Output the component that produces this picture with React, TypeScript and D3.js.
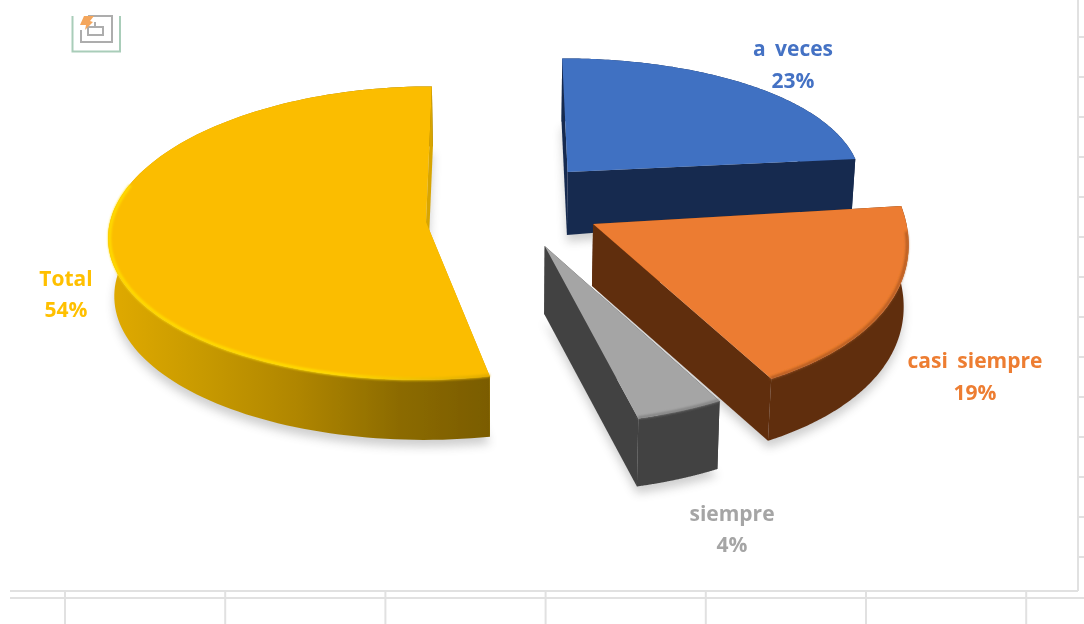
import React from "react";
import * as d3 from "d3";

const categories = ["a veces", "casi siempre", "siempre", "Total"];
const shares = [23.4, 19.2, 3.9, 53.5];
const percentLabels = ["23%", "19%", "4%", "54%"];
const topColors = ["#4071c2", "#ec7c30", "#a5a5a5", "#fbbd00"];
const wallColors = ["#182b50", "#612f11", "#434343", "url(#goldWall)"];
const cutWallColors = ["#182b50", "#612f11", "#434343", "#d8a500"];
const rimColors = ["none", "#b05a22", "#808080", "url(#goldRim)"];
const labelColors = ["#4472c4", "#ed7d31", "#a5a5a5", "#ffc000"];

// per-slice placement of the exploded pie: world offset, screen apex row, radius and tilt
const sliceOffsetX = [73, 96, 47, -71];
const sliceOffsetY = [-118, 4, 50, 0];
const sliceApexY = [172, 224, 246, 222];
const sliceRadius = [302, 313, 317, 316];
const sliceTilt = [0.436, 0.57, 0.545, 0.4617];
const sliceFrontPerspective = [1900, 100000, 10000, 4168];
const sliceStartShift = [0, 0, -2.6, 0.83];
const sliceEndShift = [0, -3.4, -2, 0];
const sliceDepth = [63, 62, 68, 60];
const sliceDepthLean = [-10, 0, 0, 2];
const sliceFloorScale = [0.99, 0.988, 0.99, 0.984];
const labelX = [793, 975, 732, 66];
const labelNameY = [50, 362, 515, 280];
const labelPercentY = [82, 394, 546, 311];
const drawOrder = [0, 3, 2, 1];

const VANISH_X = 497;
const CAMERA = 3500;

type Pt = [number, number];

export default function App() {
  const arcs = d3
    .pie<number>()
    .sort(null)
    .value((d) => d)(shares);
  const line = d3.line<Pt>().curve(d3.curveLinear);

  const project = (i: number, theta: number, r: number, floor: boolean): Pt => {
    const dX = r * Math.sin(theta);
    const dY = -r * Math.cos(theta);
    const Y = sliceOffsetY[i] + dY;
    const s = 1 / (1 - Y / CAMERA);
    const x = (sliceOffsetX[i] + dX) * s * (floor ? sliceFloorScale[i] : 1);
    const y =
      sliceApexY[i] +
      (sliceTilt[i] * dY) / (1 - dY / sliceFrontPerspective[i]) +
      (floor ? sliceDepth[i] + (sliceDepthLean[i] * dX) / sliceRadius[i] : 0);
    return [VANISH_X + x, y];
  };

  const deg = Math.PI / 180;
  const slices = arcs.map((a, i) => {
    const a0 = a.startAngle + sliceStartShift[i] * deg;
    const a1 = a.endAngle + sliceEndShift[i] * deg;
    const R = sliceRadius[i];
    const thetas = d3.range(0, 121).map((k) => a0 + ((a1 - a0) * k) / 120);
    const rimTop = thetas.map((t) => project(i, t, R, false));
    const rimFloor = thetas.map((t) => project(i, t, R, true));
    const apexTop = project(i, 0, 0, false);
    const apexFloor = project(i, 0, 0, true);
    const top = line([apexTop, ...rimTop])! + "Z";
    const floor = line([apexFloor, ...rimFloor])! + "Z";
    const outerWall = line([...rimTop, ...rimFloor.slice().reverse()])! + "Z";
    const wallStart = line([apexTop, rimTop[0], rimFloor[0], apexFloor])! + "Z";
    const wallEnd =
      line([apexTop, rimTop[120], rimFloor[120], apexFloor])! + "Z";
    // highlight only along the part of the rim that faces the viewer
    const frontLimit = i === 3 ? 285 * deg : a1;
    const rim = line(
      thetas
        .filter((t) => t <= frontLimit && t > (i === 1 ? 92 * deg : 0))
        .map((t) => project(i, t, R - 1.5, false))
    )!;
    return { i, top, floor, outerWall, wallStart, wallEnd, rim };
  });

  const rows = d3.range(37, 560, 40);
  const cols = d3.range(0, 7).map((k) => 65 + k * 160.2);
  const gridColor = "#e1e1e1";
  const font = "'Open Sans', Lato, sans-serif";

  return (
    <svg
      width={1084}
      height={624}
      style={{ position: "absolute", left: 0, top: 0, background: "#fff" }}
    >
      <defs>
        <linearGradient id="goldWall" gradientUnits="userSpaceOnUse" x1="110" x2="490" y1="0" y2="0">
          <stop offset="0" stopColor="#e0aa00" />
          <stop offset="0.24" stopColor="#c89a00" />
          <stop offset="0.49" stopColor="#b08600" />
          <stop offset="0.76" stopColor="#8c6b00" />
          <stop offset="1" stopColor="#7a5c00" />
        </linearGradient>
        <linearGradient id="goldRim" gradientUnits="userSpaceOnUse" x1="110" x2="490" y1="0" y2="0">
          <stop offset="0" stopColor="#ffdc00" />
          <stop offset="0.6" stopColor="#ffdc00" />
          <stop offset="1" stopColor="#e0aa00" />
        </linearGradient>
        <filter id="soft" x="-5%" y="-5%" width="110%" height="110%">
          <feGaussianBlur stdDeviation="0.6" />
        </filter>
        <filter id="shadow" x="-10%" y="-10%" width="120%" height="130%">
          <feGaussianBlur stdDeviation="5" />
        </filter>
        <filter id="rimBlur" x="-10%" y="-10%" width="120%" height="120%">
          <feGaussianBlur stdDeviation="1.3" />
        </filter>
        <filter id="textSoft">
          <feGaussianBlur stdDeviation="0.4" />
        </filter>
      </defs>

      <rect width={1084} height={624} fill="#fff" />

      {/* worksheet grid behind the chart */}
      <g stroke={gridColor} strokeWidth={2} fill="none">
        <line x1={10} x2={1078} y1={591} y2={591} />
        <line x1={1078} x2={1078} y1={0} y2={591} />
        <line x1={10} x2={1084} y1={598} y2={598} />
        {cols.map((x) => (
          <line key={x} x1={x} x2={x} y1={592} y2={624} />
        ))}
        {rows.map((y) => (
          <line key={y} x1={1078} x2={1084} y1={y} y2={y} />
        ))}
      </g>

      {/* picture placeholder icon */}
      <g fill="none" filter="url(#soft)">
        <path d="M72.5,16V51.5H120V16" stroke="#a9cdb9" strokeWidth={2} />
        <path d="M81,30V42H112V16H88" stroke="#adadad" strokeWidth={2} />
        <rect x={88} y={27} width={15} height={8} stroke="#adadad" strokeWidth={2} />
        <path d="M95,27V22" stroke="#adadad" strokeWidth={2} />
        <path d="M84,16H94L90,21L93,22L85,30L86,25L80,25Z" fill="#f4a65c" />
      </g>

      {/* drop shadows */}
      <g filter="url(#shadow)" opacity={0.28}>
        {slices.map((s) => (
          <path key={s.i} d={s.floor} fill="#555" transform="translate(0,7)" />
        ))}
      </g>

      <g filter="url(#soft)">
        {drawOrder.map((k) => {
          const s = slices[k];
          return (
            <g key={categories[k]}>
              <path d={s.wallStart} fill={cutWallColors[k]} />
              {k !== 3 && <path d={s.wallEnd} fill={cutWallColors[k]} />}
              <path d={s.outerWall} fill={wallColors[k]} />
              {k === 3 && <path d={s.wallEnd} fill={cutWallColors[k]} />}
              <path d={s.top} fill={topColors[k]} />
              {rimColors[k] !== "none" && (
                <path
                  d={s.rim}
                  fill="none"
                  stroke={rimColors[k]}
                  strokeWidth={k === 3 ? 3 : 2.5}
                  filter="url(#rimBlur)"
                />
              )}
            </g>
          );
        })}
      </g>

      {/* data labels */}
      <g
        fontFamily={font}
        fontWeight={700}
        fontSize={21}
        textAnchor="middle"
        filter="url(#textSoft)"
        wordSpacing={4}
      >
        {categories.map((c, i) => (
          <g key={c} fill={labelColors[i]}>
            <text x={labelX[i]} y={labelNameY[i]} dominantBaseline="middle">
              {c}
            </text>
            <text x={labelX[i]} y={labelPercentY[i]} dominantBaseline="middle">
              {percentLabels[i]}
            </text>
          </g>
        ))}
      </g>
    </svg>
  );
}
